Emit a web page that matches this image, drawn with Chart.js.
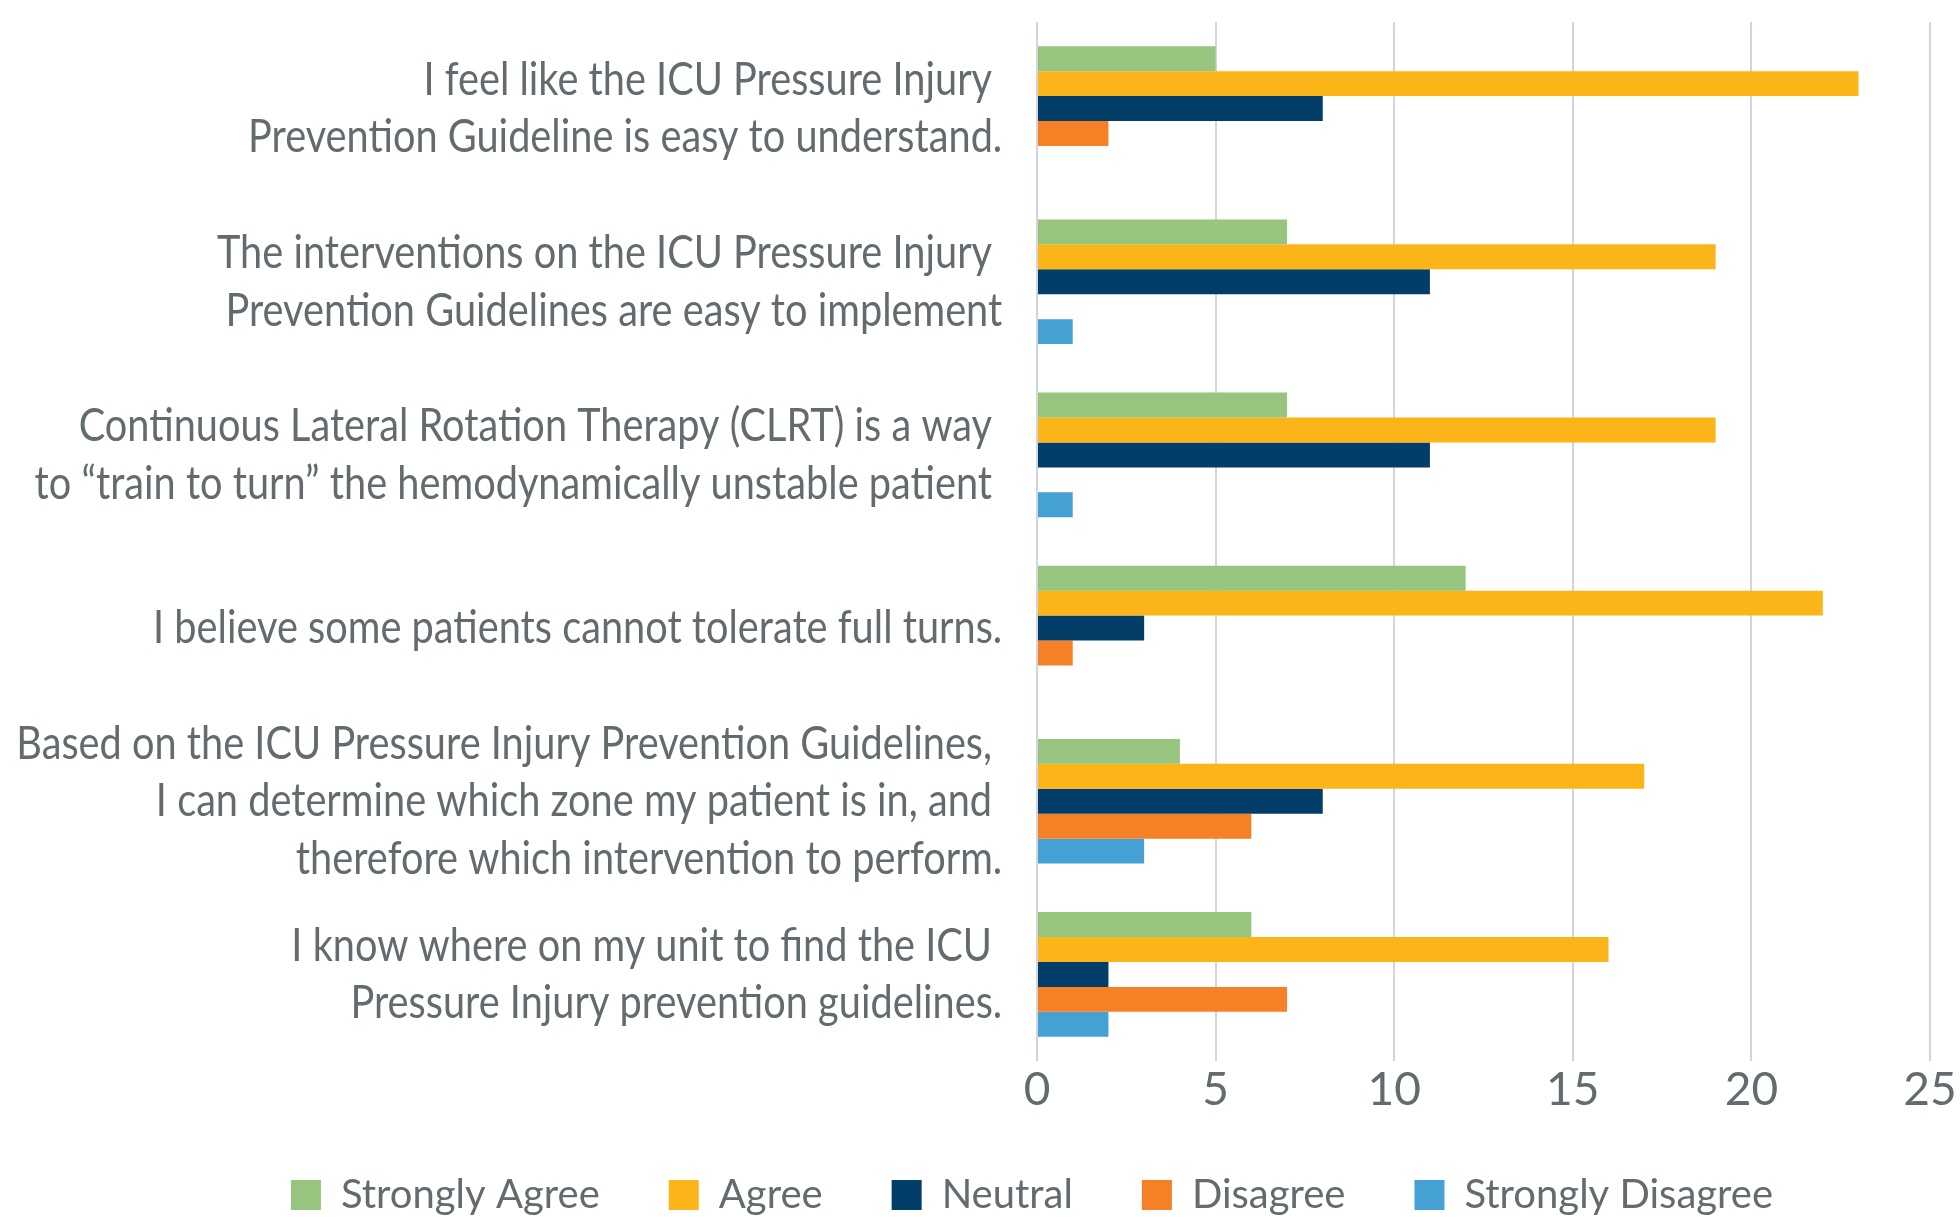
<!DOCTYPE html>
<html>
<head>
<meta charset="utf-8">
<script src="https://cdn.jsdelivr.net/npm/chart.js@4.4.1/dist/chart.umd.min.js"></script>
<style>
  html, body { margin: 0; padding: 0; background: #fff; overflow: hidden; }
  #wrap { width: 1960px; height: 1217px; }
</style>
</head>
<body>
<div id="wrap"><canvas id="chart"></canvas></div>
<script>
const categories = [
    ['I feel like the ICU Pressure Injury ', 'Prevention Guideline is easy to understand.'],
    ['The interventions on the ICU Pressure Injury ', 'Prevention Guidelines are easy to implement'],
    ['Continuous Lateral Rotation Therapy (CLRT) is a way ', 'to \u201Ctrain to turn\u201D the hemodynamically unstable patient '],
    ['I believe some patients cannot tolerate full turns.'],
    ['Based on the ICU Pressure Injury Prevention Guidelines, ', 'I can determine which zone my patient is in, and ', 'therefore which intervention to perform.'],
    ['I know where on my unit to find the ICU ', 'Pressure Injury prevention guidelines.']
];

const seriesNames = ['Strongly Agree', 'Agree', 'Neutral', 'Disagree', 'Strongly Disagree'];
const stronglyAgree = [5, 7, 7, 12, 4, 6];
const agree = [23, 19, 19, 22, 17, 16];
const neutral = [8, 11, 11, 3, 8, 2];
const disagree = [2, 0, 0, 1, 6, 7];
const stronglyDisagree = [0, 1, 1, 0, 3, 2];
const xTicks = [0, 5, 10, 15, 20, 25];

const colors = ['#97c47f', '#fbb519', '#033e69', '#f58025', '#45a0d4'];
const seriesValues = [stronglyAgree, agree, neutral, disagree, stronglyDisagree];

const textColor = '#636b6f';
const fontFamily = 'Lato, "Open Sans", sans-serif';
const labelSqueeze = 0.845;

// category axis whose labels are drawn horizontally condensed, like the original narrow font
class CondensedCategoryScale extends Chart.CategoryScale {
    _computeLabelArea() {
        return undefined;
    }
    drawLabels(chartArea) {
        const ctx = this.ctx;
        const x0 = this.right;
        ctx.save();
        ctx.translate(x0, 0);
        ctx.scale(labelSqueeze, 1);
        ctx.translate(-x0, 0);
        super.drawLabels(chartArea);
        ctx.restore();
    }
}
CondensedCategoryScale.id = 'condensedCategory';
CondensedCategoryScale.defaults = Chart.CategoryScale.defaults;
Chart.register(CondensedCategoryScale);

new Chart(document.getElementById('chart'), {
    type: 'bar',
    data: {
        labels: categories,
        datasets: seriesNames.map((name, i) => ({
            label: name,
            data: seriesValues[i],
            backgroundColor: colors[i],
            borderWidth: 0,
            categoryPercentage: 0.72,
            barPercentage: 1.0
        }))
    },
    options: {
        indexAxis: 'y',
        responsive: true,
        maintainAspectRatio: false,
        animation: false,
        layout: { padding: { top: 22, right: 30, left: 134, bottom: -8 } },
        plugins: {
            legend: {
                position: 'bottom',
                labels: {
                    boxWidth: 30,
                    boxHeight: 30,
                    padding: 69,
                    color: textColor,
                    font: { family: fontFamily, size: 40 }
                }
            },
            tooltip: { enabled: false }
        },
        scales: {
            x: {
                min: 0,
                max: 25,
                afterBuildTicks: (scale) => { scale.ticks = xTicks.map(v => ({ value: v })); },
                afterFit: (scale) => {
                    scale.height = 45;
                    scale.paddingLeft = 0;
                    scale.paddingRight = 0;
                },
                grid: { color: '#d3d4dc', lineWidth: 2, drawTicks: false },
                border: { display: false },
                ticks: {
                    color: textColor,
                    padding: 6,
                    maxRotation: 0,
                    font: { family: fontFamily, size: 46, lineHeight: 1.0 }
                }
            },
            y: {
                type: 'condensedCategory',
                afterFit: (scale) => {
                    scale.width = 1037 - 134;
                    scale.paddingTop = 0;
                    scale.paddingBottom = 0;
                },
                grid: { display: false },
                border: { display: false },
                ticks: {
                    autoSkip: false,
                    color: textColor,
                    padding: 28 / labelSqueeze,
                    font: { family: fontFamily, size: 47, lineHeight: 1.223 }
                }
            }
        }
    }
});
</script>
</body>
</html>
